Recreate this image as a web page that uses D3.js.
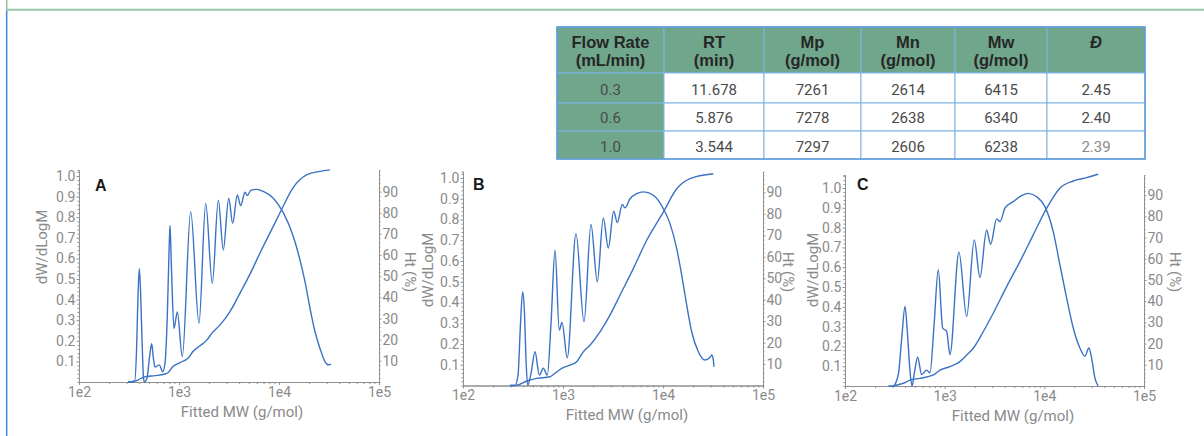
<!DOCTYPE html>
<html>
<head>
<meta charset="utf-8">
<script src="https://cdn.jsdelivr.net/npm/d3@7"></script>
<style>
  body { margin: 0; background: #fff; }
  svg { display: block; }
  text { font-family: Roboto, "Liberation Sans", sans-serif; }
</style>
</head>
<body>
<svg id="fig" width="1204" height="436"></svg>
<script>
// table values
const tableHeaders = [["Flow Rate", "(mL/min)"], ["RT", "(min)"], ["Mp", "(g/mol)"], ["Mn", "(g/mol)"], ["Mw", "(g/mol)"], ["Đ", ""]];
const flowRates = ["0.3", "0.6", "1.0"];
const retentionTimes = ["11.678", "5.876", "3.544"];
const mpValues = ["7261", "7278", "7297"];
const mnValues = ["2614", "2638", "2606"];
const mwValues = ["6415", "6340", "6238"];
const dispersity = ["2.45", "2.40", "2.39"];

// chart values, [fitted MW (g/mol), value]
const distA = [[309,0],[359,0],[376,0.15],[389,0.42],[401,0.55],[412,0.45],[427,0.2],[442,0.02],[452,0],[479,0.02],[507,0.12],[533,0.186],[553,0.12],[575,0.072],[635,0.083],[687,0.05],[724,0.09],[764,0.32],[800,0.68],[813,0.76],[841,0.55],[891,0.26],[962,0.34],[1079,0.123],[1309,0.827],[1585,0.285],[1849,0.867],[2153,0.479],[2472,0.883],[2773,0.641],[3141,0.892],[3443,0.77],[3828,0.908],[4140,0.856],[4571,0.921],[4819,0.905],[5210,0.93],[5984,0.935],[6966,0.925],[8770,0.892],[11040,0.822],[13900,0.706],[16220,0.592],[18200,0.487],[20420,0.358],[22910,0.244],[25700,0.163],[28840,0.099],[31120,0.083],[33110,0.087]];
const cumA = [[309,0],[347,0.3],[389,0.9],[437,2.2],[479,2.6],[575,3.0],[724,3.8],[776,4.4],[871,7.3],[1023,9.2],[1230,11.2],[1380,14.4],[1622,17.1],[1905,19.9],[2138,23.1],[2570,27.0],[3236,33.3],[4074,42],[5129,51],[6457,61],[8128,70.5],[10230,80],[13800,91.8],[19050,98],[25700,99.6],[32360,100.3]];

const distB = [[295,0],[331,0],[355,0.05],[376,0.3],[395,0.451],[412,0.35],[427,0.12],[444,0],[479,0.06],[525,0.163],[580,0.05],[635,0.083],[697,0.05],[759,0.3],[832,0.652],[918,0.267],[977,0.304],[1104,0.134],[1349,0.732],[1622,0.307],[1905,0.776],[2203,0.5],[2529,0.808],[2838,0.663],[3214,0.84],[3491,0.785],[3917,0.872],[4169,0.856],[4677,0.9],[5458,0.925],[6353,0.933],[8000,0.917],[10070,0.853],[11750,0.78],[13710,0.66],[15380,0.532],[17260,0.387],[19360,0.259],[22550,0.163],[26300,0.123],[29510,0.135],[30690,0.147],[31860,0.123],[32360,0.09]];
const cumB = [[295,0],[347,0.2],[434,2.1],[546,3.3],[741,4.1],[832,5.7],[971,8.0],[1175,9.5],[1371,11.1],[1596,15.7],[1862,18.8],[2344,25.0],[2951,32.8],[3715,42.1],[5047,54.5],[6871,67.7],[10070,80.8],[13710,91.7],[18620,96.4],[31860,98.7]];

const distC = [[272,0],[303,0],[343,0.058],[371,0.243],[400,0.402],[422,0.276],[449,0.075],[470,0],[498,0.07],[536,0.145],[587,0.058],[659,0.08],[713,0.067],[781,0.3],[863,0.587],[955,0.293],[1047,0.276],[1130,0.159],[1390,0.676],[1663,0.352],[1982,0.738],[2259,0.548],[2636,0.788],[2890,0.716],[3324,0.844],[3589,0.83],[4027,0.898],[4876,0.931],[5916,0.961],[6887,0.973],[8375,0.956],[10140,0.906],[12280,0.78],[14330,0.612],[16750,0.444],[19500,0.293],[22750,0.192],[25530,0.15],[27990,0.192],[29790,0.142],[32140,0.041],[34670,0]];
const cumC = [[305,0],[385,1.3],[449,2.8],[565,3.6],[769,5.2],[898,7.5],[1130,9.1],[1422,11.5],[1663,14.6],[1936,17.8],[2438,25.6],[3069,34.3],[4188,46.9],[5690,58.7],[7745,71.3],[10540,83.8],[14330,93.3],[19500,96.7],[26550,98.3],[34750,99.9]];

const xTicks = [1e2, 1e3, 1e4, 1e5];
const leftTicks = [0.1, 0.2, 0.3, 0.4, 0.5, 0.6, 0.7, 0.8, 0.9, 1.0];
const rightTicks = [10, 20, 30, 40, 50, 60, 70, 80, 90];

const lineColor = "#3a72c4";
const axisColor = "#8f8f8f";
const labelColor = "#8a8a8a";

const svg = d3.select("#fig");

// page frame
svg.append("line").attr("x1", 6).attr("x2", 1204).attr("y1", 9.8).attr("y2", 9.8)
    .attr("stroke", "#97c4aa").attr("stroke-width", 2);
svg.append("line").attr("x1", 6.7).attr("x2", 6.7).attr("y1", 0).attr("y2", 9)
    .attr("stroke", "#8cc49c").attr("stroke-width", 1.5);
svg.append("line").attr("x1", 6.7).attr("x2", 6.7).attr("y1", 10.5).attr("y2", 436)
    .attr("stroke", "#3a90e0").attr("stroke-width", 1.5);

// table
function drawTable() {
    const colX = [557, 664, 764, 861, 955, 1047, 1145];
    const rowY = [27, 73, 103, 131, 159];
    const green = "#70a68c";
    const columns = [flowRates, retentionTimes, mpValues, mnValues, mwValues, dispersity];
    const g = svg.append("g");

    for (let r = 0; r < 4; r++) {
        for (let c = 0; c < 6; c++) {
            g.append("rect")
                .attr("x", colX[c]).attr("y", rowY[r])
                .attr("width", colX[c + 1] - colX[c]).attr("height", rowY[r + 1] - rowY[r])
                .attr("fill", (r === 0 || c === 0) ? green : "#fff")
                .attr("stroke", "#7fb3e3").attr("stroke-width", 1);
        }
    }
    g.append("rect").attr("x", colX[0]).attr("y", rowY[0])
        .attr("width", colX[6] - colX[0]).attr("height", rowY[4] - rowY[0])
        .attr("fill", "none").attr("stroke", "#5b9ad6").attr("stroke-width", 1.5);

    // header
    tableHeaders.forEach((h, c) => {
        const cx = (colX[c] + colX[c + 1]) / 2;
        const t = g.append("text")
            .attr("x", cx).attr("y", 48)
            .attr("text-anchor", "middle")
            .style("font-family", "'Liberation Sans', Arial, sans-serif")
            .style("font-weight", "bold")
            .style("font-size", "16.5px")
            .attr("fill", "#262626")
            .text(h[0]);
        if (h[0] === "Đ") t.style("font-style", "italic");
        if (h[1]) {
            g.append("text")
                .attr("x", cx).attr("y", 66)
                .attr("text-anchor", "middle")
                .style("font-family", "'Liberation Sans', Arial, sans-serif")
                .style("font-weight", "bold")
                .style("font-size", "16.5px")
                .attr("fill", "#262626")
                .text(h[1]);
        }
    });

    // body
    const baselines = [95, 123, 151.5];
    columns.forEach((col, c) => {
        const cx = (colX[c] + colX[c + 1]) / 2;
        col.forEach((val, r) => {
            g.append("text")
                .attr("x", cx).attr("y", baselines[r])
                .attr("text-anchor", "middle")
                .style("font-size", "15px")
                .attr("fill", (c === 5 && r === 2) ? "#8a8a8a" : "#4a4a4a")
                .text(val);
        });
    });
}
drawTable();

const panels = [
    {name: "A", dist: distA, cum: cumA, x0: 79, x1: 379, yBase: 382, yOne: 176, yTop: 170, yHundred: 170.5,
     letter: [95, 191], leftTitle: [42, 247], rightTitle: [410, 272], xTitle: [242, 417]},
    {name: "B", dist: distB, cum: cumB, x0: 463, x1: 763, yBase: 385.5, yOne: 178, yTop: 171.5, yHundred: 171,
     letter: [473, 190], leftTitle: [428, 270], rightTitle: [788, 272], xTitle: [627, 420]},
    {name: "C", dist: distC, cum: cumC, x0: 845, x1: 1144, yBase: 386, yOne: 188, yTop: 175, yHundred: 174,
     letter: [857, 190], leftTitle: [813, 270], rightTitle: [1175, 272], xTitle: [1013, 421]}
];

function styleAxis(g) {
    g.attr("font-family", null).attr("font-size", null);
    g.selectAll("path.domain").attr("stroke", axisColor);
    g.selectAll(".tick line").attr("stroke", axisColor);
    g.selectAll(".tick text").attr("fill", labelColor).style("font-size", "14px");
}

function drawPanel(p) {
    const topL = (p.yBase - p.yTop) / (p.yBase - p.yOne);
    const topR = 100 * (p.yBase - p.yTop) / (p.yBase - p.yHundred);

    const x = d3.scaleLog().domain([1e2, 1e5]).range([p.x0, p.x1]);
    const yL = d3.scaleLinear().domain([0, topL]).range([p.yBase, p.yTop]);
    const yR = d3.scaleLinear().domain([0, topR]).range([p.yBase, p.yTop]);

    const g = svg.append("g");

    // minor ticks
    const minorX = [];
    [1e2, 1e3, 1e4].forEach(d => { for (let k = 2; k < 10; k++) minorX.push(d * k); });
    const minorL = d3.range(0.02, topL, 0.02).filter(v => Math.abs(v * 10 - Math.round(v * 10)) > 0.01);
    const minorR = d3.range(2, topR, 2).filter(v => v % 10 !== 0);

    g.append("g").attr("transform", `translate(0,${p.yBase})`)
        .call(d3.axisBottom(x).tickValues(minorX).tickSize(2).tickFormat(""))
        .call(styleAxis);
    g.append("g").attr("transform", `translate(${p.x0},0)`)
        .call(d3.axisLeft(yL).tickValues(minorL).tickSize(1.5).tickFormat(""))
        .call(styleAxis);
    g.append("g").attr("transform", `translate(${p.x1},0)`)
        .call(d3.axisRight(yR).tickValues(minorR).tickSize(1.5).tickFormat(""))
        .call(styleAxis);

    // major axes
    g.append("g").attr("transform", `translate(0,${p.yBase})`)
        .call(d3.axisBottom(x).tickValues(xTicks).tickSize(3).tickPadding(2).tickSizeOuter(0)
            .tickFormat(d => "1e" + Math.round(Math.log10(d))))
        .call(styleAxis);
    g.append("g").attr("transform", `translate(${p.x0},0)`)
        .call(d3.axisLeft(yL).tickValues(leftTicks).tickSize(2.5).tickPadding(1).tickSizeOuter(0)
            .tickFormat(d3.format(".1f")))
        .call(styleAxis);
    g.append("g").attr("transform", `translate(${p.x1},0)`)
        .call(d3.axisRight(yR).tickValues(rightTicks).tickSize(2.5).tickPadding(1).tickSizeOuter(0))
        .call(styleAxis);

    // curves
    const lineL = d3.line().x(d => x(d[0])).y(d => yL(d[1])).curve(d3.curveMonotoneX);
    const lineR = d3.line().x(d => x(d[0])).y(d => yR(d[1])).curve(d3.curveMonotoneX);
    g.append("path").datum(p.cum).attr("d", lineR)
        .attr("fill", "none").attr("stroke", lineColor).attr("stroke-width", 1.4);
    g.append("path").datum(p.dist).attr("d", lineL)
        .attr("fill", "none").attr("stroke", lineColor).attr("stroke-width", 1.4);

    // labels
    g.append("text").attr("x", p.letter[0]).attr("y", p.letter[1])
        .style("font-family", "'Liberation Sans', Arial, sans-serif")
        .style("font-weight", "bold").style("font-size", "16px")
        .attr("fill", "#1a1a1a").text(p.name);

    g.append("text")
        .attr("transform", `translate(${p.leftTitle[0]},${p.leftTitle[1]}) rotate(-90)`)
        .attr("text-anchor", "middle").attr("dy", "0.35em")
        .style("font-size", "15px").attr("fill", labelColor)
        .text("dW/dLogM");
    g.append("text")
        .attr("transform", `translate(${p.rightTitle[0]},${p.rightTitle[1]}) rotate(90)`)
        .attr("text-anchor", "middle").attr("dy", "0.35em")
        .style("font-size", "15px").attr("fill", labelColor)
        .text("Ht (%)");
    g.append("text")
        .attr("x", p.xTitle[0]).attr("y", p.xTitle[1])
        .attr("text-anchor", "middle")
        .style("font-size", "15px").attr("fill", labelColor)
        .text("Fitted MW (g/mol)");
}

panels.forEach(drawPanel);
</script>
</body>
</html>
